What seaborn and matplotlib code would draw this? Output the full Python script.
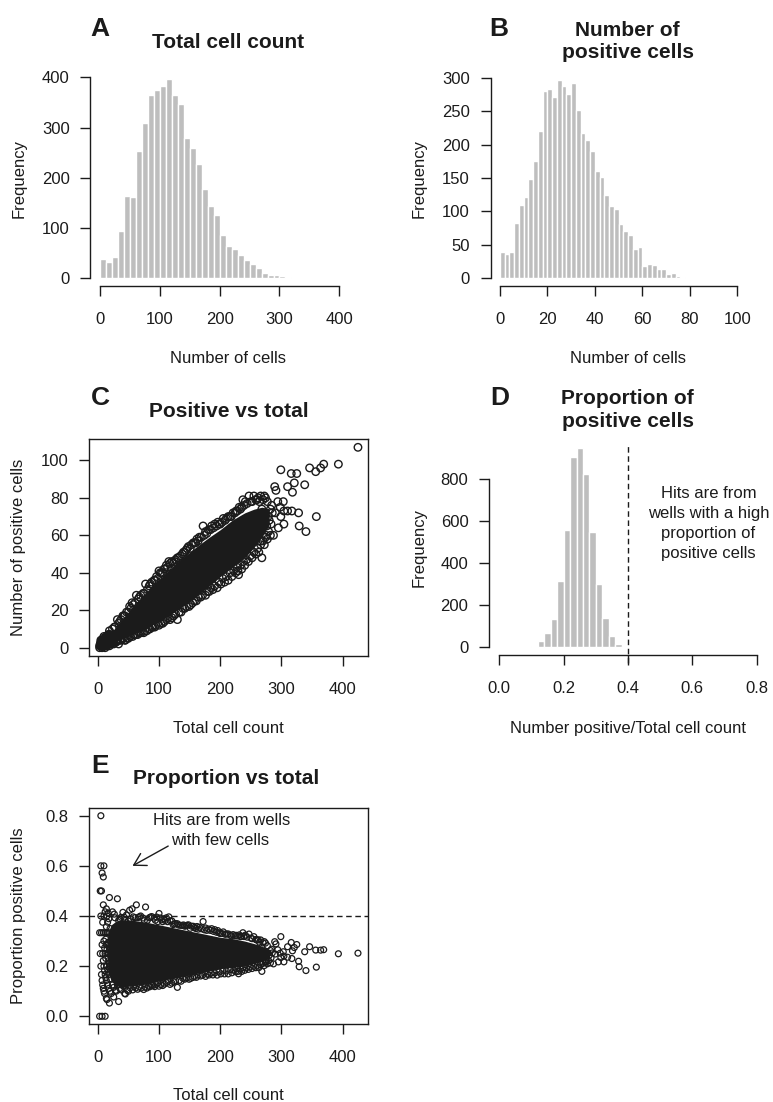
import numpy as np
import pandas as pd
import matplotlib
matplotlib.use("Agg")
import matplotlib.pyplot as plt
import seaborn as sns

# ------------------------------------------------------------------ data
# A: wells per total-cell-count bin (bins of 10 cells, starting at 0)
total_bin_width = 10
total_bin_counts = [38, 33, 42, 94, 163, 162, 254, 309, 365, 375, 382, 396, 365,
                    347, 279, 260, 228, 178, 144, 125, 86, 65, 59, 46, 37, 29,
                    21, 10, 7, 6, 4, 3, 1]

# B: wells per positive-cell-count bin (bins of 2 cells, starting at 0)
positive_bin_width = 2
positive_bin_counts = [39, 36, 39, 82, 110, 122, 148, 175, 221, 280, 283, 271,
                       297, 288, 276, 292, 252, 217, 207, 190, 161, 151, 125,
                       108, 104, 81, 70, 65, 44, 47, 19, 22, 20, 14, 14, 6, 8,
                       4, 2, 0, 0, 1, 1, 1, 0, 0, 1, 1, 0, 0]

# D: wells per proportion-positive bin (bins of 0.02, starting at 0)
proportion_bin_width = 0.02
proportion_bin_counts = [3, 0, 1, 3, 3, 4, 29, 66, 133, 315, 559, 905, 948, 826,
                         547, 301, 138, 55, 16, 6, 3, 2, 3, 2, 0, 3, 0, 1, 2, 0,
                         2, 0, 0, 0, 0, 0, 0, 0, 0, 1]
hit_threshold = 0.4

# C / E: individual wells (total cells, positive cells)
# wells with very few cells
small_total = [3, 7, 12,
               3, 4, 5, 6, 7, 8, 9, 10, 11, 14, 15, 19,
               4, 5, 6, 7, 8, 9, 10, 11, 12, 13, 14, 16, 18, 20,
               5, 6, 8, 9, 10, 11, 12, 13, 15, 16, 17, 18, 20,
               5, 7, 9, 10, 12, 13, 14, 15, 16, 17, 18, 19, 20,
               9, 12, 14, 15, 17, 18, 19, 20,
               10, 14, 15, 16, 18, 20,
               17, 18, 20, 19]
small_positive = [0, 0, 0,
                  1, 1, 1, 1, 1, 1, 1, 1, 1, 1, 1, 1,
                  2, 2, 2, 2, 2, 2, 2, 2, 2, 2, 2, 2, 2, 2,
                  3, 3, 3, 3, 3, 3, 3, 3, 3, 3, 3, 3, 3,
                  4, 4, 4, 4, 4, 4, 4, 4, 4, 4, 4, 4, 4,
                  5, 5, 5, 5, 5, 5, 5, 5,
                  6, 6, 6, 6, 6, 6,
                  7, 7, 7, 9]
# wells on the high-proportion edge of the cloud
upper_total = [24, 28, 32, 34, 38, 41, 44, 47, 50, 52, 56, 58, 63, 66, 70, 74,
               78, 84, 88, 92, 96, 100, 104, 108, 112, 116, 121, 125, 130, 135,
               140, 144, 148, 153, 158, 162, 166, 172, 176, 181, 186, 191, 196,
               200, 205, 210, 216, 221, 226, 231, 233, 237, 241, 247, 250, 255,
               258, 262, 266, 270, 274,
               27, 36, 43, 54, 61, 68, 76, 81, 86, 94, 98, 102, 106, 110, 114,
               118, 123, 127, 132, 138, 142, 146, 151, 156, 160, 164, 169, 174,
               178, 184, 189, 194, 198, 203, 208, 213, 218, 224, 228, 235, 239,
               244, 252, 260, 264]
upper_positive = [10, 11, 15, 13, 15, 17, 17, 19, 19, 22, 24, 23, 28, 26, 28, 29,
                  34, 33, 35, 36, 38, 41, 40, 42, 44, 46, 46, 46, 48, 49,
                  51, 52, 54, 55, 56, 58, 59, 65, 62, 63, 65, 66, 67,
                  66, 69, 69, 70, 72, 73, 75, 74, 79, 78, 81, 78, 81,
                  79, 80, 81, 79, 80,
                  11, 14, 17, 21, 24, 27, 29, 31, 34, 36, 37, 40, 40, 42, 43,
                  45, 45, 47, 48, 50, 51, 53, 53, 56, 56, 57, 59, 60,
                  61, 63, 64, 65, 66, 67, 68, 70, 70, 72, 73, 75, 76,
                  77, 78, 79, 78]
# wells on the low-proportion edge of the cloud
lower_total = [22, 26, 26, 29, 30, 34, 38, 40, 44, 45, 50, 57, 62, 68, 75, 80,
               85, 90, 95, 100, 106, 112, 118, 124, 130, 136, 142, 149, 155,
               161, 168, 176, 182, 188, 195, 201, 207, 213, 219, 225, 229, 230,
               235, 240, 246, 252, 258, 263, 268, 272, 277, 282, 287,
               24, 32, 36, 42, 48, 53, 59, 65, 71, 77, 83, 88, 93, 98, 103,
               109, 115, 121, 127, 133, 139, 145, 152, 158, 164, 171, 179, 185,
               191, 198, 204, 210, 216, 222, 227, 233, 238, 243, 249, 255, 261,
               266, 270, 275, 279]
lower_positive = [2, 2, 3, 3, 3, 2, 4, 5, 4, 4, 5, 6, 7, 8, 8, 9,
                  10, 11, 12, 12, 13, 15, 15, 17, 15, 19, 21, 22, 24,
                  25, 27, 28, 30, 31, 32, 34, 35, 36, 38, 40, 41, 39,
                  42, 44, 46, 48, 50, 51, 48, 55, 58, 60, 60,
                  3, 4, 4, 5, 5, 6, 7, 7, 8, 9, 10, 11, 11, 13, 13,
                  14, 16, 16, 18, 19, 21, 22, 23, 25, 27, 28, 30, 32,
                  33, 35, 37, 38, 40, 41, 43, 44, 46, 47, 49, 51, 53,
                  55, 57, 60, 62]
# wells with the largest totals
tail_total = [260, 262, 266, 268, 270, 274, 276, 278, 280, 282, 283, 285, 277,
              272, 284, 289, 291, 290, 294, 295, 298, 299, 299, 303, 304, 304,
              310, 310, 316, 317, 318, 321, 325, 328, 329, 338, 340, 346, 356,
              357, 364, 369, 393, 425]
tail_positive = [70, 62, 57, 74, 70, 59, 65, 70, 68, 74, 66, 72, 78,
                 81, 76, 86, 84, 72, 78, 64, 75, 70, 95, 78, 73, 66,
                 73, 86, 93, 73, 83, 88, 93, 72, 65, 87, 62, 96, 94,
                 70, 96, 98, 98, 107]

# dense core of the cloud (circles merge into a solid mass):
# proportion range covered at a series of total counts
core_total = [16, 22, 30, 40, 60, 80, 100, 120, 140, 160, 180, 200, 220, 240,
              255, 268, 280]
core_prop_low = [0.18, 0.14, 0.122, 0.117, 0.122, 0.13, 0.14, 0.15, 0.16, 0.17,
                 0.18, 0.19, 0.195, 0.20, 0.21, 0.22, 0.235]
core_prop_high = [0.33, 0.365, 0.38, 0.385, 0.382, 0.375, 0.365, 0.355, 0.345,
                  0.335, 0.325, 0.315, 0.31, 0.30, 0.29, 0.28, 0.265]

# tick values / labels
a_xticks = [0, 100, 200, 300, 400]
a_yticks = [0, 100, 200, 300, 400]
b_xticks = [0, 20, 40, 60, 80, 100]
b_yticks = [0, 50, 100, 150, 200, 250, 300]
c_xticks = [0, 100, 200, 300, 400]
c_yticks = [0, 20, 40, 60, 80, 100]
d_xticks = [0.0, 0.2, 0.4, 0.6, 0.8]
d_xticklabels = ["0.0", "0.2", "0.4", "0.6", "0.8"]
d_yticks = [0, 200, 400, 600, 800]
e_xticks = [0, 100, 200, 300, 400]
e_yticks = [0.0, 0.2, 0.4, 0.6, 0.8]
e_yticklabels = ["0.0", "0.2", "0.4", "0.6", "0.8"]

# ------------------------------------------------------------------ style
sns.set_theme(style="white")
plt.rcParams["font.family"] = ["Liberation Sans", "DejaVu Sans"]
INK = "#1b1b1b"
BAR = "#bebebe"
LW = 1.0
FS = 12

W, H = 773, 1102
fig = plt.figure(figsize=(W / 100, H / 100), dpi=100)
fig.patch.set_facecolor("white")


def axes_px(left, top, right, bottom):
    return fig.add_axes([left / W, 1 - bottom / H, (right - left) / W, (bottom - top) / H])


def ftext(x, y, s, **kw):
    kw.setdefault("color", INK)
    kw.setdefault("fontsize", FS)
    fig.text(x / W, 1 - y / H, s, **kw)


def r_axes(ax, xticks, yticks, xlabels=None, ylabels=None, box=False):
    ax.set_xticks(xticks)
    ax.set_yticks(yticks)
    ax.set_xticklabels(xlabels if xlabels else [str(v) for v in xticks])
    ax.set_yticklabels(ylabels if ylabels else [str(v) for v in yticks])
    for sp in ax.spines.values():
        sp.set_linewidth(LW)
        sp.set_color(INK)
        sp.set_visible(True)
    if not box:
        ax.spines["top"].set_visible(False)
        ax.spines["right"].set_visible(False)
        ax.spines["left"].set_bounds(yticks[0], yticks[-1])
        ax.spines["bottom"].set_bounds(xticks[0], xticks[-1])
    ax.tick_params(axis="both", which="both", direction="out", length=7.3,
                   width=LW, color=INK, labelsize=FS, labelcolor=INK,
                   bottom=True, left=True, top=False, right=False)
    ax.tick_params(axis="x", pad=11.5)
    ax.tick_params(axis="y", pad=7.5)
    ax.set_xlabel("")
    ax.set_ylabel("")
    ax.grid(False)
    ax.set_facecolor("none")


def hist_panel(ax, counts, width):
    edges = [i * width for i in range(len(counts) + 1)]
    centers = [e + width / 2 for e in edges[:-1]]
    df = pd.DataFrame({"bin": centers, "n": counts})
    sns.histplot(data=df, x="bin", weights="n", bins=edges, ax=ax, color=BAR,
                 edgecolor="white", linewidth=1.0, alpha=1, legend=False)


# ------------------------------------------------------------------ wells
well_total = np.array(small_total + upper_total + lower_total + tail_total, dtype=float)
well_positive = np.array(small_positive + upper_positive + lower_positive + tail_positive,
                         dtype=float)
well_proportion = well_positive / well_total
core_t = np.array(core_total, dtype=float)
core_lo = np.array(core_prop_low)
core_hi = np.array(core_prop_high)

# ------------------------------------------------------------------ A
axA = axes_px(90.4, 71.35, 348.9, 286.26)
hist_panel(axA, total_bin_counts, total_bin_width)
axA.set_xlim(-16, 416)
axA.set_ylim(-15.84, 411.84)
r_axes(axA, a_xticks, a_yticks)

# ------------------------------------------------------------------ B
axB = axes_px(490.5, 71.75, 746.8, 286.24)
hist_panel(axB, positive_bin_counts, positive_bin_width)
axB.set_xlim(-4, 104)
axB.set_ylim(-11.88, 308.88)
r_axes(axB, b_xticks, b_yticks)

# ------------------------------------------------------------------ C
axC = axes_px(89.3, 439.3, 368.3, 655.7)
axC.fill_between(core_t, core_lo * core_t, core_hi * core_t, color=INK,
                 linewidth=0, zorder=2)
sns.scatterplot(x=well_total, y=well_positive, ax=axC, s=29, marker="o",
                facecolors="none", edgecolors=INK, linewidths=1.0,
                legend=False, zorder=3)
axC.collections[-1].set_facecolor("none")
axC.collections[-1].set_edgecolor(INK)
axC.set_xlim(-13.88, 441.88)
axC.set_ylim(-4.28, 111.28)
r_axes(axC, c_xticks, c_yticks, box=True)

# ------------------------------------------------------------------ D
axD = axes_px(489.0, 439.9, 767.0, 655.3)
hist_panel(axD, proportion_bin_counts, proportion_bin_width)
axD.set_xlim(-0.032, 0.832)
axD.set_ylim(-37.92, 985.92)
axD.axvline(hit_threshold, ymin=-0.036, ymax=0.972, color=INK, lw=1.0,
            dashes=(4, 2.6), clip_on=False, zorder=4)
r_axes(axD, d_xticks, d_yticks, xlabels=d_xticklabels)

# ------------------------------------------------------------------ E
axE = axes_px(89.3, 807.7, 368.3, 1024.3)
axE.axhline(hit_threshold, color=INK, lw=1.0, dashes=(4, 2.6), zorder=1)
axE.fill_between(core_t, core_lo, core_hi, color=INK, linewidth=0, zorder=2)
sns.scatterplot(x=well_total, y=well_proportion, ax=axE, s=18, marker="o",
                facecolors="none", edgecolors=INK, linewidths=0.9,
                legend=False, zorder=3)
axE.collections[-1].set_facecolor("none")
axE.collections[-1].set_edgecolor(INK)
axE.set_xlim(-13.88, 441.88)
axE.set_ylim(-0.032, 0.832)
axE.annotate("", xy=(56.7, 0.600), xytext=(115, 0.679),
             arrowprops=dict(arrowstyle="->,head_length=0.6,head_width=0.35",
                             color=INK, lw=1.0, mutation_scale=14,
                             shrinkA=0, shrinkB=0))
r_axes(axE, e_xticks, e_yticks, ylabels=e_yticklabels, box=True)

# ------------------------------------------------------------------ text
LET = dict(fontsize=19, fontweight="bold", ha="center", va="baseline")
TIT = dict(fontsize=15, fontweight="bold", ha="center", va="baseline")
XL = dict(ha="center", va="baseline")
YL = dict(ha="center", va="center", rotation=90)

ftext(100, 36, "A", **LET)
ftext(499, 36, "B", **LET)
ftext(100, 405, "C", **LET)
ftext(499.5, 405, "D", **LET)
ftext(100, 773, "E", **LET)

ftext(228.3, 48.3, "Total cell count", **TIT)
ftext(627.7, 36.2, "Number of", **TIT)
ftext(627.7, 58.3, "positive cells", **TIT)
ftext(229, 417.3, "Positive vs total", **TIT)
ftext(627.7, 404.3, "Proportion of", **TIT)
ftext(627.7, 427.3, "positive cells", **TIT)
ftext(225.8, 784.3, "Proportion vs total", **TIT)

ftext(228.3, 363.3, "Number of cells", **XL)
ftext(628.5, 363.3, "Number of cells", **XL)
ftext(228.3, 732.7, "Total cell count", **XL)
ftext(627.7, 732.7, "Number positive/Total cell count", **XL)
ftext(228.3, 1100.0, "Total cell count", **XL)

ftext(18.7, 178.8, "Frequency", **YL)
ftext(418.7, 178.8, "Frequency", **YL)
ftext(18.7, 547.5, "Number of positive cells", **YL)
ftext(418.7, 547.5, "Frequency", **YL)
ftext(19.0, 915.8, "Proportion positive cells", **YL)

ANN = dict(ha="center", va="baseline")
ftext(708.5, 497.7, "Hits are from", **ANN)
ftext(708.5, 517.7, "wells with a high", **ANN)
ftext(708.5, 537.7, "proportion of", **ANN)
ftext(708.5, 557.7, "positive cells", **ANN)
ftext(221.5, 825.0, "Hits are from wells", **ANN)
ftext(220.0, 845.0, "with few cells", **ANN)

fig.savefig("out.png", dpi=100, facecolor="white")
